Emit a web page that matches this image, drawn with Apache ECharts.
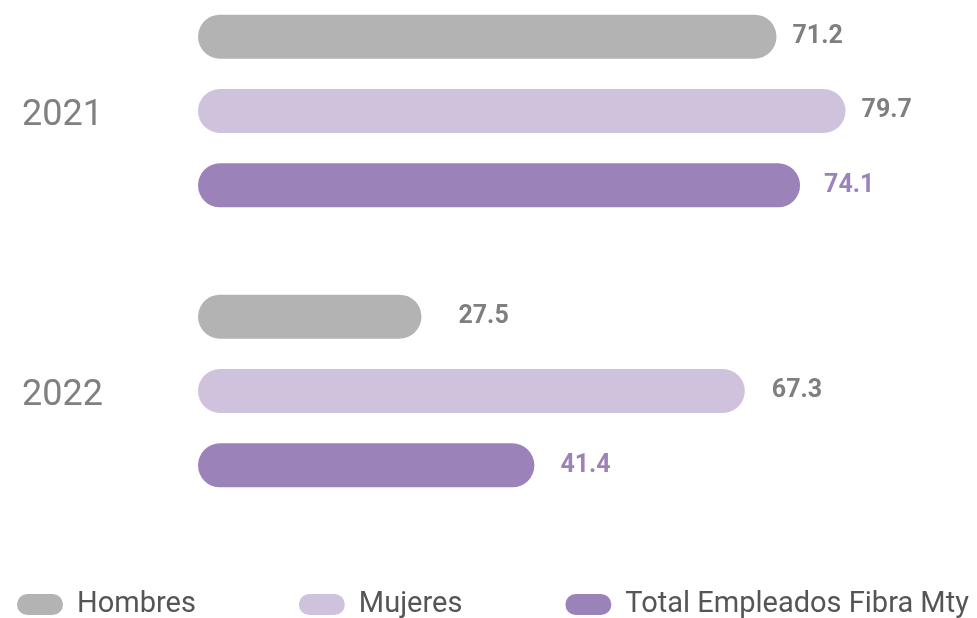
<!DOCTYPE html>
<html>
<head>
<meta charset="utf-8">
<script src="https://cdn.jsdelivr.net/npm/echarts@6/dist/echarts.min.js"></script>
<style>
  html, body { margin: 0; padding: 0; background: #ffffff; }
  #chart { width: 977px; height: 618px; }
</style>
</head>
<body>
<div id="chart"></div>
<script>
// Years shown on the category axis
const years = ['2021', '2022'];

// Series names and their values per year
const seriesNames = ['Hombres', 'Mujeres', 'Total Empleados Fibra Mty'];
const hombres = [71.2, 27.5];
const mujeres = [79.7, 67.3];
const total = [74.1, 41.4];

// Styling per series
const barColors = ['#b3b3b3', '#cfc2dc', '#9b82b9'];
const labelColors = ['#7f7f7f', '#7f7f7f', '#9b82b9'];
// Space between each bar end and its value label
const labelGaps = [[16, 37], [16, 27], [24, 26]];

const pill = 'path://M10.5,0 H35.5 A10.5,10.5 0 0 1 35.5,21 H10.5 A10.5,10.5 0 0 1 10.5,0 Z';

const values = [hombres, mujeres, total];

const chart = echarts.init(document.getElementById('chart'), null, { renderer: 'canvas' });

chart.setOption({
  animation: false,
  backgroundColor: '#ffffff',
  textStyle: { fontFamily: 'Roboto, sans-serif' },
  grid: {
    left: 198, width: 780, top: -29, height: 560,
    containLabel: false,
    outerBoundsMode: 'none'
  },
  xAxis: {
    type: 'value',
    min: 0,
    max: 96,
    show: false
  },
  yAxis: {
    type: 'category',
    data: years,
    inverse: true,
    axisLine: { show: false },
    axisTick: { show: false },
    splitLine: { show: false },
    axisLabel: {
      margin: 95,
      formatter: '{y|{value}}',
      rich: {
        y: {
          fontSize: 36,
          color: '#808080',
          padding: [9, 0, 0, 0],
          fontFamily: 'Roboto, sans-serif'
        }
      }
    }
  },
  legend: {
    left: 17,
    top: 590,
    padding: 0,
    itemWidth: 46,
    itemHeight: 21,
    itemGap: 103,
    icon: pill,
    textStyle: {
      fontSize: 29,
      lineHeight: 28,
      color: '#555555',
      padding: [0, 0, 0, 9],
      fontFamily: 'Roboto, sans-serif'
    },
    data: seriesNames
  },
  series: seriesNames.map((name, i) => ({
    name: name,
    type: 'bar',
    barWidth: 44,
    barGap: '69%',
    itemStyle: { color: barColors[i], borderRadius: 22 },
    label: {
      show: true,
      position: 'right',
      fontSize: 25,
      fontWeight: 'bold',
      color: labelColors[i],
      fontFamily: 'Roboto, sans-serif'
    },
    data: values[i].map((v, j) => ({
      value: v,
      label: { distance: labelGaps[i][j] }
    }))
  }))
});
</script>
</body>
</html>
